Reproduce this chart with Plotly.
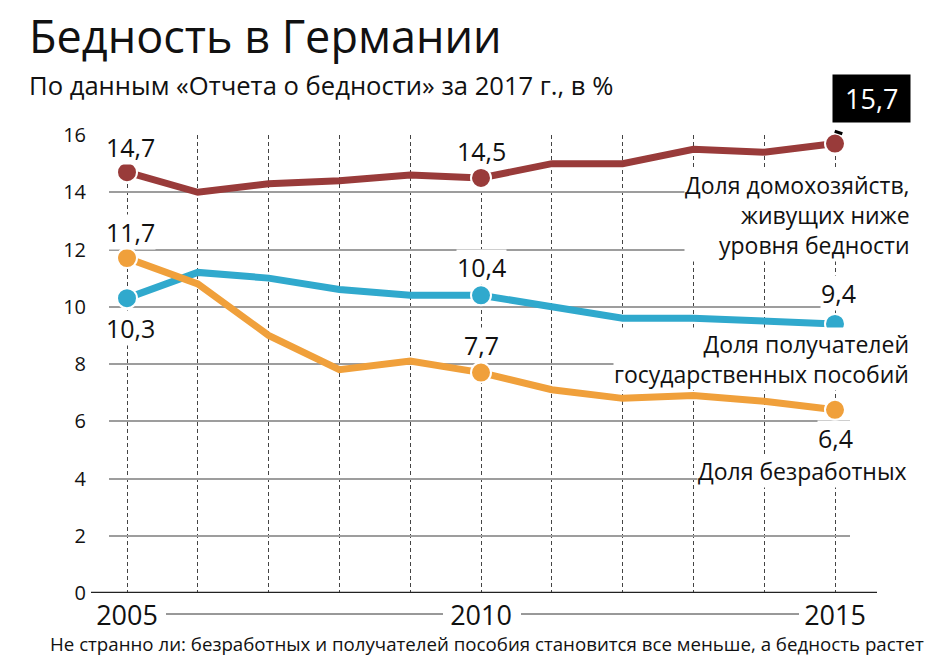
import plotly.graph_objects as go

# ---------------- data ----------------
years = list(range(2005, 2016))
poverty = [14.7, 14.0, 14.3, 14.4, 14.6, 14.5, 15.0, 15.0, 15.5, 15.4, 15.7]
benefits = [10.3, 11.2, 11.0, 10.6, 10.4, 10.4, 10.0, 9.6, 9.6, 9.5, 9.4]
unemployed = [11.7, 10.8, 9.0, 7.8, 8.1, 7.7, 7.1, 6.8, 6.9, 6.7, 6.4]
year_ticktext = ["2005", "", "", "", "", "2010", "", "", "", "", "2015"]
y_tickvals = [0, 2, 4, 6, 8, 10, 12, 14, 16]
labeled_idx = [0, 5, 10]

title = "Бедность в Германии"
subtitle = "По данным «Отчета о бедности» за 2017 г., в %"
note = "Не странно ли: безработных и получателей пособия становится все меньше, а бедность растет"
label_poverty = "Доля домохозяйств,<br>живущих ниже<br>уровня бедности"
label_benefits = "Доля получателей<br>государственных пособий"
label_unemployed = "Доля безработных"

C_POV = "#993b3a"
C_BEN = "#30a9cd"
C_UNE = "#f0a03b"
FONT = "Open Sans"

W, H = 930, 658
# plot-area edges in pixels
PL, PR, PT, PB = 109, 850, 135, 593


def px(xp):
    return xp / W


def py(yp):
    return (H - yp) / H


def fmt(v):
    return f"{v:.1f}".replace(".", ",")


fig = go.Figure()

series = [(poverty, C_POV), (benefits, C_BEN), (unemployed, C_UNE)]
for vals, col in series:
    fig.add_trace(go.Scatter(x=years, y=vals, mode="lines",
                             line=dict(color=col, width=7),
                             hoverinfo="skip", cliponaxis=False))
for vals, col in series:
    fig.add_trace(go.Scatter(x=[years[i] for i in labeled_idx],
                             y=[vals[i] for i in labeled_idx],
                             mode="markers",
                             marker=dict(color=col, size=20,
                                         line=dict(color="white", width=2)),
                             hoverinfo="skip", cliponaxis=False))

ann = []
vfont = dict(family=FONT, size=25, color="#111")


def val_label(vals, i, dy, dx=0):
    ann.append(dict(x=years[i], y=vals[i], xref="x", yref="y",
                    text=fmt(vals[i]), showarrow=False, yshift=dy, xshift=dx,
                    font=vfont, bgcolor="white", borderpad=0))


val_label(poverty, 0, 25, 3)
val_label(poverty, 5, 27, 0)
val_label(unemployed, 0, 26, 3)
val_label(benefits, 0, -30, 3)
val_label(benefits, 5, 28, 0)
val_label(unemployed, 5, 28, 0)
val_label(benefits, 10, 31, 3)
val_label(unemployed, 10, -28, 0)

# callout for last poverty value
ann.append(dict(x=years[10], y=poverty[10], xref="x", yref="y",
                text=" ", showarrow=True, ax=7, ay=-22, arrowhead=0,
                arrowwidth=8, arrowcolor="black", standoff=10))
ann.append(dict(x=years[10], y=poverty[10], xref="x", yref="y",
                text="&nbsp;" + fmt(poverty[10]) + "&nbsp;", showarrow=False,
                xanchor="left", yanchor="bottom", xshift=-3, yshift=21,
                font=dict(family=FONT, size=27, color="white"),
                bgcolor="black", borderpad=5))

lfont = dict(family=FONT, size=23, color="#111")
ann.append(dict(x=years[10], y=poverty[10], xref="x", yref="y",
                text=label_poverty, showarrow=False, xanchor="right",
                align="right", xshift=76, yshift=-71, font=lfont,
                bgcolor="white", borderpad=0))
ann.append(dict(x=years[10], y=benefits[10], xref="x", yref="y",
                text=label_benefits, showarrow=False, xanchor="right",
                align="right", xshift=75, yshift=-35, font=lfont,
                bgcolor="white", borderpad=0))
ann.append(dict(x=years[10], y=unemployed[10], xref="x", yref="y",
                text=label_unemployed, showarrow=False, xanchor="right",
                align="right", xshift=73, yshift=-61, font=lfont,
                bgcolor="white", borderpad=0))

# titles
ann.append(dict(x=px(27), y=py(36), xref="paper", yref="paper", text=title,
                showarrow=False, xanchor="left", yanchor="middle",
                font=dict(family=FONT, size=45, color="#111")))
ann.append(dict(x=px(27), y=py(85), xref="paper", yref="paper", text=subtitle,
                showarrow=False, xanchor="left", yanchor="middle",
                font=dict(family=FONT, size=25.6, color="#111")))
ann.append(dict(x=px(48), y=py(643), xref="paper", yref="paper", text=note,
                showarrow=False, xanchor="left", yanchor="middle",
                font=dict(family=FONT, size=18.7, color="#111")))

shapes = [
    # baseline
    dict(type="line", xref="paper", yref="y", x0=px(91), x1=px(877),
         y0=0, y1=0, line=dict(color="#222", width=2.5)),
    # connectors between year labels
    dict(type="line", xref="paper", yref="paper", x0=px(166), x1=px(443),
         y0=py(614), y1=py(614), line=dict(color="#333", width=1)),
    dict(type="line", xref="paper", yref="paper", x0=px(521), x1=px(799),
         y0=py(614), y1=py(614), line=dict(color="#333", width=1)),
]

frame_axis = dict(showline=True, linecolor="#555", linewidth=2.5,
                  showgrid=False, zeroline=False, showticklabels=False,
                  ticks="", range=[0, 1], fixedrange=True)

fig.update_layout(
    width=W, height=H,
    margin=dict(l=0, r=0, t=0, b=0, pad=0, autoexpand=False),
    paper_bgcolor="white", plot_bgcolor="rgba(0,0,0,0)",
    showlegend=False,
    annotations=ann, shapes=shapes,
    xaxis=dict(domain=[px(PL), px(PR)],
               range=[2005 - 18 / 70.8, 2015 + 15 / 70.8],
               tickvals=years, ticktext=year_ticktext,
               showgrid=True, gridcolor="#444", gridwidth=1.3,
               griddash="4px,3px", zeroline=False, showline=False,
               ticks="", ticklabelstandoff=4,
               tickfont=dict(family=FONT, size=27, color="#111"),
               automargin=False, fixedrange=True),
    yaxis=dict(domain=[py(PB), py(PT)], range=[0, 16], tickvals=y_tickvals,
               showgrid=True, gridcolor="#9d9d9d", gridwidth=1.5,
               zeroline=False, showline=False, ticks="",
               ticklabelstandoff=22,
               tickfont=dict(family=FONT, size=20, color="#111"),
               automargin=False, fixedrange=True),
    # frame: left edge from yaxis2, top and bottom edges from xaxis2
    xaxis2=dict(domain=[px(10), 1], anchor="y2", mirror=True, **frame_axis),
    yaxis2=dict(domain=[py(631), py(4)], anchor="x2", mirror=False,
                **frame_axis),
)

fig.write_html(
    "out.html",
    config={"displayModeBar": False},
    post_script=("document.documentElement.style.overflow='hidden';"
                 "document.body.style.margin='0';"
                 "document.body.style.overflow='hidden';"),
)
